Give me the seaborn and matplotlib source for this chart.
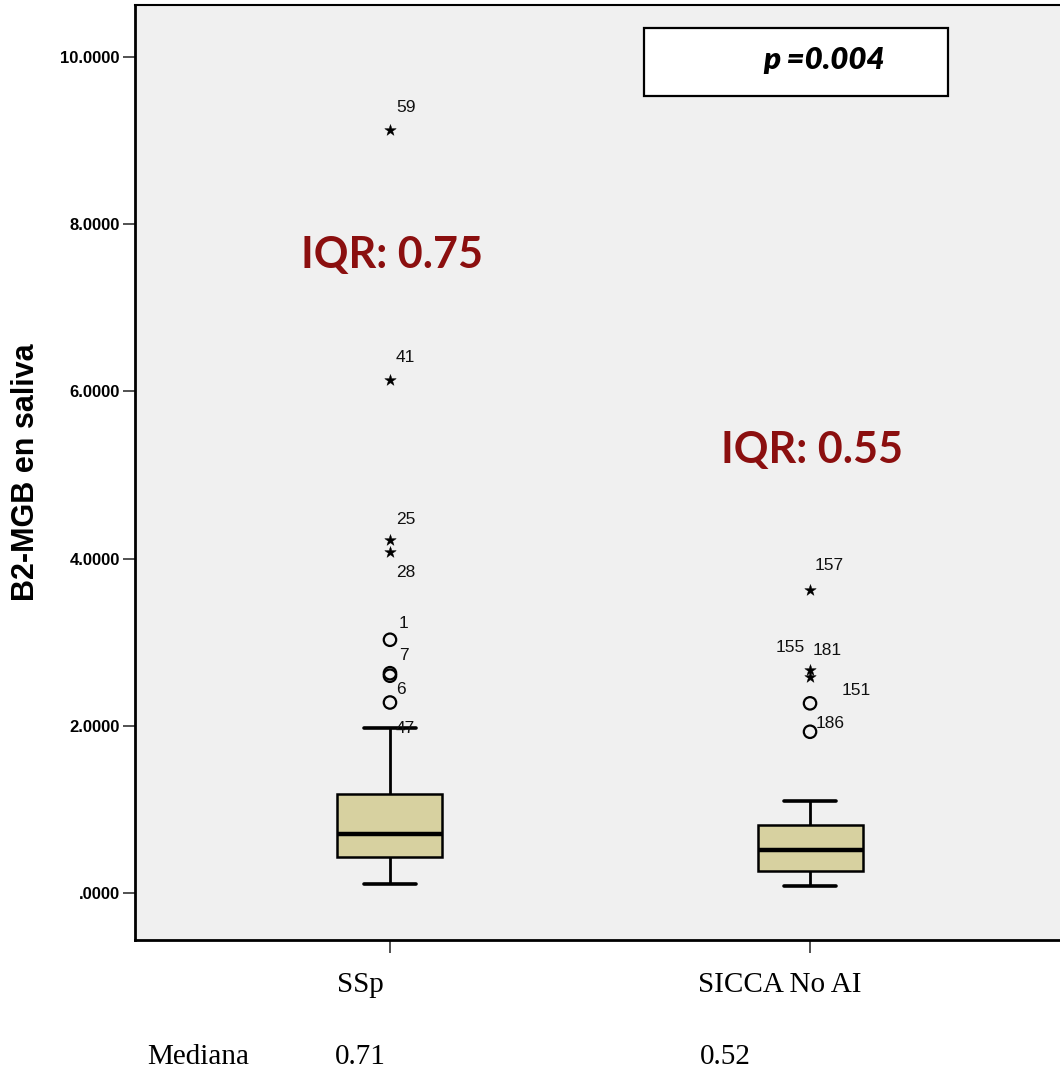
import numpy as np
import pandas as pd
import matplotlib
matplotlib.use("Agg")
import matplotlib.pyplot as plt
from matplotlib.patches import Rectangle
import seaborn as sns

# ---------------- data ----------------
categories = ["SSp", "SICCA No AI"]
whisker_low = [0.11, 0.08]
q1 = [0.43, 0.26]
medians = [0.71, 0.52]
q3 = [1.18, 0.81]
whisker_high = [1.97, 1.10]
iqr_labels = ["IQR: 0.75", "IQR: 0.55"]
p_label = "p =0.004"

# outliers: group, value, case id, kind (circle / star)
out_group = ["SSp", "SSp", "SSp", "SSp", "SSp", "SSp", "SSp", "SSp",
             "SICCA No AI", "SICCA No AI", "SICCA No AI", "SICCA No AI", "SICCA No AI"]
out_value = [9.13, 6.14, 4.22, 4.08, 3.03, 2.63, 2.60, 2.28,
             3.62, 2.67, 2.58, 2.27, 1.93]
out_id = ["59", "41", "25", "28", "1", "7", "", "6",
          "157", "155", "181", "151", "186"]
out_kind = ["star", "star", "star", "star", "circle", "circle", "circle", "circle",
            "star", "star", "star", "circle", "circle"]
# labelled whisker end (case 47)
whisker_case_group = ["SSp"]
whisker_case_value = [1.97]
whisker_case_id = ["47"]

yticks = [0, 2, 4, 6, 8, 10]
ytick_labels = [".0000", "2.0000", "4.0000", "6.0000", "8.0000", "10.0000"]

# label offsets (pixels, right/up) — layout only
label_offsets = {
    "59": (6, 22, "left"), "41": (6, 22, "left"), "25": (6, 21, "left"),
    "28": (6, -21, "left"), "1": (9, 16, "left"), "7": (9, 18, "left"),
    "6": (6, 13, "left"), "47": (6, 0, "left"),
    "157": (5, 25, "left"), "155": (-5, 22, "right"), "181": (3, 27, "left"),
    "151": (32, 13, "left"), "186": (6, 8, "left"),
}

# ---------------- figure ----------------
sns.set_style("white")
plt.rcParams.update({"text.color": "black", "axes.labelcolor": "black",
                     "xtick.color": "black", "ytick.color": "black"})
W, H = 1060, 1083
fig = plt.figure(figsize=(W / 100, H / 100), dpi=100)
ax = fig.add_axes([135 / W, (H - 940) / H, (1065 - 135) / W, (940 - 5) / H])
ax.set_facecolor("#f0f0f0")

# build box data (5-number summary per group -> exact quartiles)
rows = []
for c, a, b, m, d, e in zip(categories, whisker_low, q1, medians, q3, whisker_high):
    for v in (a, b, m, d, e):
        rows.append({"group": c, "value": v})
df = pd.DataFrame(rows)

sns.boxplot(data=df, x="group", y="value", order=categories, whis=np.inf,
            color="#d7d1a0", saturation=1, linecolor="black", linewidth=1.8,
            width=0.25, showfliers=False, ax=ax,
            medianprops={"linewidth": 3.2, "color": "black"},
            whiskerprops={"linewidth": 2.0}, capprops={"linewidth": 2.6})

pos = {c: i for i, c in enumerate(categories)}
odf = pd.DataFrame({"x": [pos[g] for g in out_group], "value": out_value,
                    "id": out_id, "kind": out_kind})
stars = odf[odf.kind == "star"]
circles = odf[odf.kind == "circle"]
sns.scatterplot(x=stars.x, y=stars.value, marker="*", s=75, color="black",
                edgecolor="black", linewidth=0.3, ax=ax, zorder=5)
sns.scatterplot(x=circles.x, y=circles.value, marker="o", s=80,
                facecolor="none", edgecolor="black", linewidth=1.6, ax=ax, zorder=5)

lab_font = dict(family=["Liberation Sans Narrow", "Liberation Sans", "DejaVu Sans"],
                fontsize=12.5, color="#111111")
for xg, v, lid in list(zip(odf.x, odf.value, odf.id)) + \
        list(zip([pos[g] for g in whisker_case_group], whisker_case_value, whisker_case_id)):
    if not lid:
        continue
    dx, dy, ha = label_offsets[lid]
    ax.annotate(lid, xy=(xg, v), xytext=(dx * 0.72, dy * 0.72),
                textcoords="offset points", ha=ha, va="center", zorder=6, **lab_font)

# IQR texts
iqr_y = [7.63, 5.30]
for i, t in enumerate(iqr_labels):
    ax.text(i + 0.005, iqr_y[i], t, ha="center", va="center", color="#8b0f0f",
            fontsize=31, fontweight="bold", family=["Lato", "DejaVu Sans"])

# p-value box
ax.add_patch(Rectangle((0.605, 9.53), 1.329 - 0.605, 10.35 - 9.53,
                       facecolor="white", edgecolor="black", linewidth=1.6, zorder=4))
ax.text(1.033, 9.96, p_label, ha="center", va="center", fontsize=22.5,
        fontweight="heavy", fontstyle="italic", family=["Lato", "DejaVu Sans"],
        color="black", zorder=5)

# axes styling
ax.set_xlim(-0.607, 1.607)
ax.set_ylim(-0.56, 10.62)
ax.set_yticks(yticks)
ax.set_yticklabels(ytick_labels, fontsize=12, fontweight="bold",
                   family=["Liberation Sans", "DejaVu Sans"])
# major ticks at category centres (marks only); labels on offset minor ticks
ax.set_xticks(range(len(categories)))
ax.set_xticklabels([""] * len(categories))
ax.set_xticks([i - 0.071 for i in range(len(categories))], minor=True)
ax.set_xticklabels(categories, minor=True, fontsize=21,
                   family=["Liberation Serif", "DejaVu Serif"])
ax.tick_params(axis="y", direction="out", length=9, width=1.2, color="#333333", pad=2, left=True)
ax.tick_params(axis="x", which="major", direction="out", length=9, width=1.2,
               color="#333333", bottom=True)
ax.tick_params(axis="x", which="minor", length=0, pad=23, bottom=True)
ax.set_xlabel("")
ax.set_ylabel("B2-MGB en saliva", fontsize=22, fontweight="bold",
              family=["Liberation Sans", "DejaVu Sans"], labelpad=14)
for s in ax.spines.values():
    s.set_color("black")
    s.set_linewidth(2)
ax.spines["top"].set_linewidth(1.5)

# Mediana row
fig.text(147 / W, 1 - 1057 / H, "Mediana", ha="left", va="center", fontsize=21,
         family=["Liberation Serif", "DejaVu Serif"])
med_x = [335, 700]
for mx, m in zip(med_x, medians):
    fig.text(mx / W, 1 - 1057 / H, f"{m:.2f}", ha="left", va="center", fontsize=21,
             family=["Liberation Serif", "DejaVu Serif"])

fig.savefig("out.png", dpi=100, facecolor="white")
